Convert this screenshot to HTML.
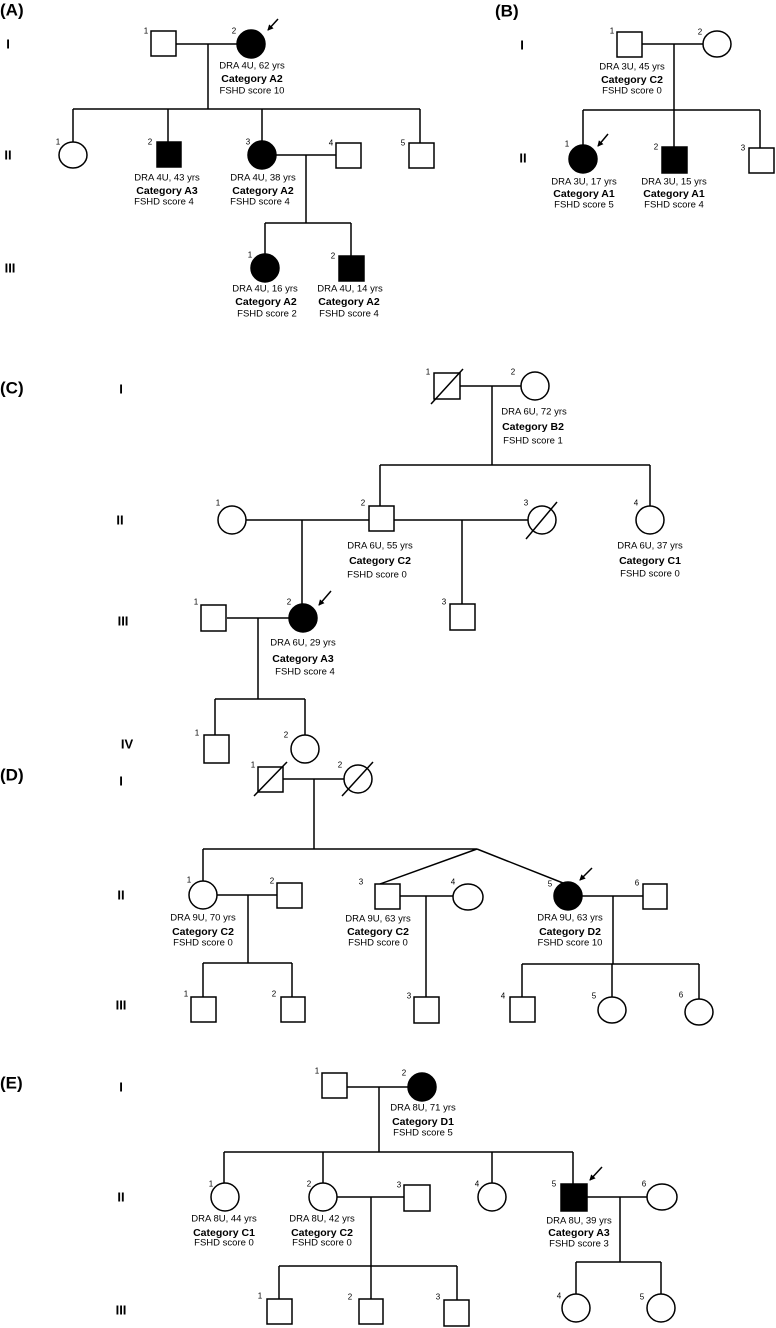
<!DOCTYPE html>
<html><head><meta charset="utf-8"><style>
html,body{margin:0;padding:0;background:#fff}
svg{display:block}
.l{fill:none;stroke:#000;stroke-width:1.5}
.w{fill:#fff;stroke:#000;stroke-width:1.5}
.b{fill:#000;stroke:#000;stroke-width:1.5}
text{font-family:"Liberation Sans",sans-serif;dominant-baseline:central;fill:#000}
.t{font-size:9.5px;text-anchor:middle}
.c{font-size:10.5px;font-weight:bold;text-anchor:middle}
.n{font-size:8px;text-anchor:middle}
.g{font-size:13px;font-weight:bold;text-anchor:middle}
.p{font-size:17px;font-weight:bold}
</style></head><body>
<svg width="776" height="1328" viewBox="0 0 776 1328" xmlns="http://www.w3.org/2000/svg">
<defs><marker id="ah" markerWidth="6" markerHeight="6" refX="5" refY="3" orient="auto" markerUnits="userSpaceOnUse"><path d="M0,0L6,3L0,6z" fill="#000"/></marker></defs>

<!-- Panel A -->
<text class="p" x="0" y="10">(A)</text>
<text class="g" x="8" y="44">I</text><text class="g" x="8" y="155">II</text><text class="g" x="10" y="268">III</text>
<path class="l" d="M176,44H237M208,44V109M73,109H420M73,109V142M168,109V142M262,109V141M420,109V143M276,155H336M306,155V223M265,223H351M265,223V254M351,223V256"/>
<rect class="w" x="151" y="31" width="25" height="25"/><circle class="b" cx="251" cy="44" r="14"/>
<ellipse class="w" cx="73" cy="155" rx="14" ry="13"/><rect class="b" x="157" y="142" width="24" height="25"/>
<circle class="b" cx="262" cy="155" r="14"/><rect class="w" x="336" y="143" width="25" height="25"/><rect class="w" x="409" y="143" width="25" height="25"/>
<circle class="b" cx="265" cy="268" r="14"/><rect class="b" x="339" y="256" width="25" height="25"/>
<line class="l" x1="278" y1="19" x2="268" y2="30" marker-end="url(#ah)"/>
<text class="n" x="146" y="31">1</text><text class="n" x="234" y="31">2</text>
<text class="n" x="58" y="142">1</text><text class="n" x="150" y="142">2</text><text class="n" x="248" y="142">3</text><text class="n" x="331" y="143">4</text><text class="n" x="403" y="143">5</text>
<text class="n" x="250" y="255">1</text><text class="n" x="333" y="256">2</text>
<text class="t" x="252" y="66">DRA 4U, 62 yrs</text><text class="c" x="252" y="79">Category A2</text><text class="t" x="252" y="91">FSHD score 10</text>
<text class="t" x="167" y="178">DRA 4U, 43 yrs</text><text class="c" x="167" y="191">Category A3</text><text class="t" x="164" y="202">FSHD score 4</text>
<text class="t" x="263" y="178">DRA 4U, 38 yrs</text><text class="c" x="263" y="191">Category A2</text><text class="t" x="260" y="202">FSHD score 4</text>
<text class="t" x="265" y="289">DRA 4U, 16 yrs</text><text class="c" x="266" y="302">Category A2</text><text class="t" x="267" y="314">FSHD score 2</text>
<text class="t" x="350" y="289">DRA 4U, 14 yrs</text><text class="c" x="349" y="302">Category A2</text><text class="t" x="349" y="314">FSHD score 4</text>

<!-- Panel B -->
<text class="p" x="495" y="11">(B)</text>
<text class="g" x="522" y="45">I</text><text class="g" x="523" y="158">II</text>
<path class="l" d="M642,44H703M674,44V110M583,110H760M583,110V145M674,110V147M760,110V148"/>
<rect class="w" x="617" y="32" width="25" height="25"/><ellipse class="w" cx="717" cy="44" rx="14" ry="13"/>
<circle class="b" cx="583" cy="159" r="14"/><rect class="b" x="662" y="147" width="25" height="26"/><rect class="w" x="749" y="148" width="25" height="25"/>
<line class="l" x1="608" y1="134" x2="598" y2="146" marker-end="url(#ah)"/>
<text class="n" x="612" y="31">1</text><text class="n" x="700" y="32">2</text>
<text class="n" x="567" y="144">1</text><text class="n" x="656" y="147">2</text><text class="n" x="743" y="148">3</text>
<text class="t" x="632" y="67">DRA 3U, 45 yrs</text><text class="c" x="632" y="80">Category C2</text><text class="t" x="632" y="91">FSHD score 0</text>
<text class="t" x="584" y="182">DRA 3U, 17 yrs</text><text class="c" x="584" y="194">Category A1</text><text class="t" x="584" y="205">FSHD score 5</text>
<text class="t" x="674" y="182">DRA 3U, 15 yrs</text><text class="c" x="674" y="194">Category A1</text><text class="t" x="674" y="205">FSHD score 4</text>

<!-- Panel C -->
<text class="p" x="0" y="388">(C)</text>
<text class="g" x="121" y="389">I</text><text class="g" x="120" y="520">II</text><text class="g" x="123" y="621">III</text><text class="g" x="127" y="744">IV</text>
<path class="l" d="M460,386H521M492,386V465M380,465H650M380,465V506M650,465V506M246,520H369M302,520V604M394,520H528M462,520V604M227,618H289M258,618V699M215,699H305M215,699V735M305,699V735"/>
<rect class="w" x="434" y="373" width="26" height="26"/><line class="l" x1="431" y1="404" x2="463" y2="369"/>
<circle class="w" cx="535" cy="386" r="14"/>
<circle class="w" cx="232" cy="520" r="14"/><rect class="w" x="369" y="506" width="25" height="25"/>
<circle class="w" cx="542" cy="520" r="14"/><line class="l" x1="526" y1="539" x2="557" y2="502"/>
<circle class="w" cx="650" cy="520" r="14"/>
<rect class="w" x="201" y="605" width="25" height="26"/><circle class="b" cx="303" cy="618" r="14"/><rect class="w" x="450" y="604" width="25" height="26"/>
<rect class="w" x="204" y="735" width="25" height="28"/><circle class="w" cx="305" cy="749" r="14"/>
<line class="l" x1="331" y1="591" x2="319" y2="605" marker-end="url(#ah)"/>
<text class="n" x="428" y="372">1</text><text class="n" x="513" y="372">2</text>
<text class="n" x="218" y="503">1</text><text class="n" x="363" y="503">2</text><text class="n" x="526" y="503">3</text><text class="n" x="636" y="503">4</text>
<text class="n" x="196" y="602">1</text><text class="n" x="289" y="602">2</text><text class="n" x="444" y="602">3</text>
<text class="n" x="197" y="733">1</text><text class="n" x="286" y="735">2</text>
<text class="t" x="534" y="412">DRA 6U, 72 yrs</text><text class="c" x="533" y="427">Category B2</text><text class="t" x="533" y="441">FSHD score 1</text>
<text class="t" x="380" y="546">DRA 6U, 55 yrs</text><text class="c" x="380" y="561">Category C2</text><text class="t" x="377" y="575">FSHD score 0</text>
<text class="t" x="650" y="546">DRA 6U, 37 yrs</text><text class="c" x="650" y="561">Category C1</text><text class="t" x="650" y="574">FSHD score 0</text>
<text class="t" x="303" y="643">DRA 6U, 29 yrs</text><text class="c" x="303" y="659">Category A3</text><text class="t" x="305" y="672">FSHD score 4</text>

<!-- Panel D -->
<text class="p" x="0" y="775">(D)</text>
<text class="g" x="121" y="781">I</text><text class="g" x="121" y="895">II</text><text class="g" x="121" y="1005">III</text>
<path class="l" d="M283,779H344M314,779V849M203,849H477M477,849L380,884M477,849L563,883M203,849V881M217,895H277M248,895V963M203,963H292M203,963V997M292,963V997M400,896H453M426,896V997M582,896H643M613,896V964M522,964H699M522,964V997M612,964V997M699,964V999"/>
<rect class="w" x="258" y="767" width="25" height="25"/><line class="l" x1="254" y1="796" x2="287" y2="762"/>
<circle class="w" cx="358" cy="779" r="14"/><line class="l" x1="342" y1="796" x2="373" y2="762"/>
<circle class="w" cx="203" cy="895" r="14"/><rect class="w" x="277" y="883" width="25" height="25"/>
<rect class="w" x="375" y="884" width="25" height="25"/><ellipse class="w" cx="468" cy="897" rx="15" ry="13"/>
<circle class="b" cx="568" cy="896" r="14"/><rect class="w" x="643" y="884" width="24" height="25"/>
<rect class="w" x="191" y="997" width="25" height="25"/><rect class="w" x="281" y="997" width="24" height="25"/>
<rect class="w" x="414" y="997" width="25" height="26"/><rect class="w" x="510" y="997" width="25" height="25"/>
<ellipse class="w" cx="612" cy="1010" rx="14" ry="13"/><ellipse class="w" cx="699" cy="1012" rx="14" ry="13"/>
<line class="l" x1="592" y1="868" x2="580" y2="880" marker-end="url(#ah)"/>
<text class="n" x="253" y="765">1</text><text class="n" x="340" y="765">2</text>
<text class="n" x="189" y="880">1</text><text class="n" x="272" y="881">2</text><text class="n" x="361" y="882">3</text><text class="n" x="453" y="882">4</text><text class="n" x="550" y="884">5</text><text class="n" x="637" y="883">6</text>
<text class="n" x="186" y="994">1</text><text class="n" x="274" y="994">2</text><text class="n" x="409" y="996">3</text><text class="n" x="503" y="996">4</text><text class="n" x="594" y="996">5</text><text class="n" x="681" y="995">6</text>
<text class="t" x="203" y="918">DRA 9U, 70 yrs</text><text class="c" x="203" y="932">Category C2</text><text class="t" x="203" y="943">FSHD score 0</text>
<text class="t" x="378" y="919">DRA 9U, 63 yrs</text><text class="c" x="378" y="932">Category C2</text><text class="t" x="378" y="943">FSHD score 0</text>
<text class="t" x="570" y="918">DRA 9U, 63 yrs</text><text class="c" x="570" y="932">Category D2</text><text class="t" x="570" y="943">FSHD score 10</text>

<!-- Panel E -->
<text class="p" x="0" y="1083">(E)</text>
<text class="g" x="121" y="1087">I</text><text class="g" x="121" y="1197">II</text><text class="g" x="121" y="1310">III</text>
<path class="l" d="M347,1087H408M379,1087V1152M224,1152H573M224,1152V1183M323,1152V1183M492,1152V1183M573,1152V1184M337,1197H404M371,1197V1266M279,1266H457M279,1266V1299M371,1266V1299M457,1266V1300M587,1197H647M620,1197V1262M576,1262H661M576,1262V1295M661,1262V1295"/>
<rect class="w" x="322" y="1073" width="25" height="25"/><circle class="b" cx="422" cy="1087" r="14"/>
<circle class="w" cx="225" cy="1197" r="14"/><circle class="w" cx="323" cy="1197" r="14"/>
<rect class="w" x="404" y="1185" width="26" height="26"/><circle class="w" cx="492" cy="1197" r="14"/>
<rect class="b" x="561" y="1184" width="26" height="27"/><ellipse class="w" cx="662" cy="1197" rx="15" ry="13"/>
<rect class="w" x="267" y="1299" width="25" height="25"/><rect class="w" x="359" y="1299" width="24" height="25"/><rect class="w" x="444" y="1300" width="25" height="26"/>
<circle class="w" cx="576" cy="1308" r="14"/><circle class="w" cx="661" cy="1308" r="14"/>
<line class="l" x1="602" y1="1167" x2="590" y2="1180" marker-end="url(#ah)"/>
<text class="n" x="317" y="1071">1</text><text class="n" x="404" y="1073">2</text>
<text class="n" x="211" y="1184">1</text><text class="n" x="309" y="1184">2</text><text class="n" x="399" y="1185">3</text><text class="n" x="477" y="1184">4</text><text class="n" x="554" y="1184">5</text><text class="n" x="644" y="1184">6</text>
<text class="n" x="260" y="1296">1</text><text class="n" x="350" y="1297">2</text><text class="n" x="438" y="1297">3</text><text class="n" x="559" y="1296">4</text><text class="n" x="642" y="1297">5</text>
<text class="t" x="423" y="1108">DRA 8U, 71 yrs</text><text class="c" x="423" y="1122">Category D1</text><text class="t" x="423" y="1133">FSHD score 5</text>
<text class="t" x="224" y="1219">DRA 8U, 44 yrs</text><text class="c" x="224" y="1233">Category C1</text><text class="t" x="224" y="1243">FSHD score 0</text>
<text class="t" x="322" y="1219">DRA 8U, 42 yrs</text><text class="c" x="322" y="1233">Category C2</text><text class="t" x="322" y="1243">FSHD score 0</text>
<text class="t" x="579" y="1221">DRA 8U, 39 yrs</text><text class="c" x="579" y="1233">Category A3</text><text class="t" x="579" y="1244">FSHD score 3</text>
</svg>
</body></html>
